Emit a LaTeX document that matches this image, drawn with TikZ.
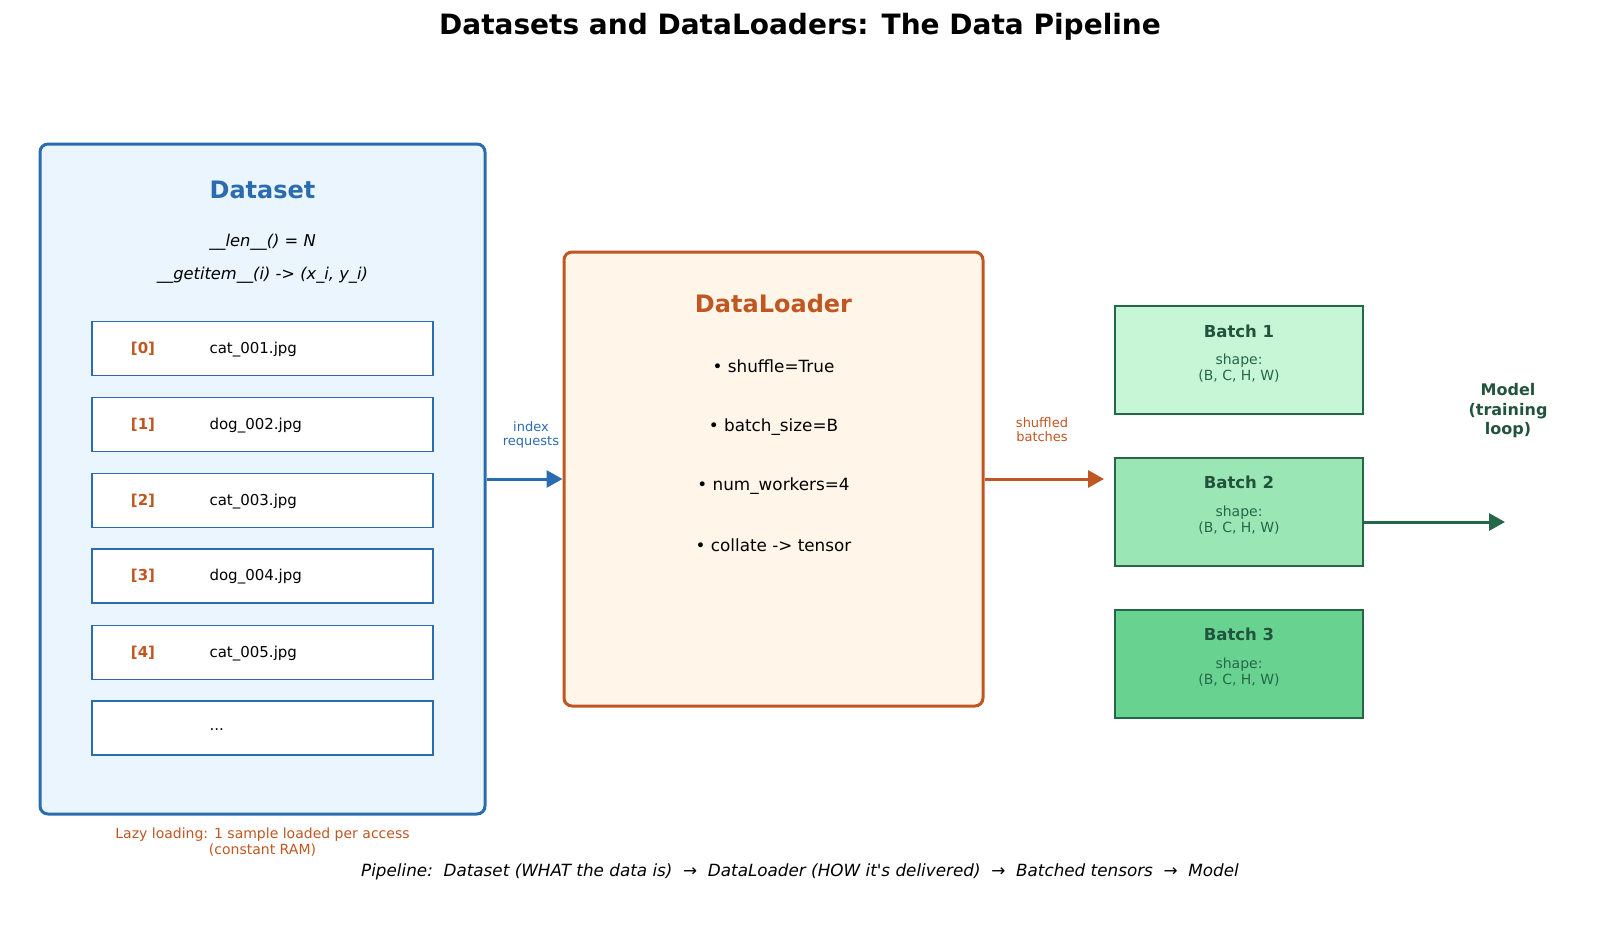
\documentclass[tikz,border=0pt]{standalone}
\usepackage{fontspec}
\setmainfont{DejaVu Sans}[Ligatures=TeXOff]
\usetikzlibrary{arrows.meta}
\definecolor{dsblue}{HTML}{2B6CB0}
\definecolor{dsfill}{HTML}{EBF5FE}
\definecolor{dlorange}{HTML}{C05621}
\definecolor{dlfill}{HTML}{FFF5E9}
\definecolor{bgreen}{HTML}{22543D}
\definecolor{bline}{HTML}{276749}
\definecolor{bfillA}{HTML}{C6F6D5}
\definecolor{bfillB}{HTML}{9AE6B4}
\definecolor{bfillC}{HTML}{68D391}

\begin{document}
\begin{tikzpicture}[
  x=1pt, y=-1pt,
  ttl/.style={font=\fontsize{28pt}{32pt}\selectfont\bfseries},
  dsbox/.style={draw=dsblue,fill=dsfill,line width=3pt,rounded corners=8pt,minimum width=445pt,minimum height=670pt},
  dlbox/.style={draw=dlorange,fill=dlfill,line width=3pt,rounded corners=8pt,minimum width=419pt,minimum height=454pt},
  head/.style={font=\fontsize{24pt}{28pt}\selectfont\bfseries},
  meth/.style={font=\fontsize{16.3pt}{19pt}\selectfont\itshape},
  item/.style={draw=dsblue,fill=white,line width=1.8pt,minimum width=341pt,minimum height=54pt},
  idx/.style={text=dlorange,font=\fontsize{15pt}{18pt}\selectfont\bfseries},
  fname/.style={anchor=west,font=\fontsize{15pt}{18pt}\selectfont},
  bullet/.style={font=\fontsize{16.8pt}{19pt}\selectfont},
  small/.style={align=center,font=\fontsize{13pt}{14.5pt}\selectfont},
  batch/.style={draw=bline,line width=2.5pt,minimum width=248pt,minimum height=108pt},
  btitle/.style={text=bgreen,font=\fontsize{16.5pt}{19pt}\selectfont\bfseries},
  bshape/.style={text=bline,align=center,font=\fontsize{14pt}{16pt}\selectfont},
  flow/.style={line width=3pt,-{Triangle[length=16pt,width=17pt]}}
]
  \useasboundingbox (0,0) rectangle (1600,927);
  \node[ttl] (title) at (800,27) {Datasets and DataLoaders: The Data Pipeline};

  \node[dsbox] (dataset) at (262.5,479) {};
  \node[head,text=dsblue] (dshead) at (262.5,190) {Dataset};
  \node[meth] (len) at (262.5,242) {\_\_len\_\_() = N};
  \node[meth] (getitem) at (262.5,275.5) {\_\_getitem\_\_(i) -> (x\_i, y\_i)};

  \node[item] (it0) at (262.5,348.5) {};
  \node[idx] (ix0) at (143,348.5) {[0]};
  \node[fname] (fn0) at (206,349.5) {cat\_001.jpg};
  \node[item] (it1) at (262.5,424.5) {};
  \node[idx] (ix1) at (143,424.5) {[1]};
  \node[fname] (fn1) at (206,425.5) {dog\_002.jpg};
  \node[item] (it2) at (262.5,500.5) {};
  \node[idx] (ix2) at (143,500.5) {[2]};
  \node[fname] (fn2) at (206,501.5) {cat\_003.jpg};
  \node[item] (it3) at (262.5,576) {};
  \node[idx] (ix3) at (143,576) {[3]};
  \node[fname] (fn3) at (206,577) {dog\_004.jpg};
  \node[item] (it4) at (262.5,652.5) {};
  \node[idx] (ix4) at (143,652.5) {[4]};
  \node[fname] (fn4) at (206,653.5) {cat\_005.jpg};
  \node[item] (it5) at (262.5,728) {};
  \node[fname] (fn5) at (206,730) {...};

  \node[small,text=dlorange,font=\fontsize{14pt}{16pt}\selectfont] (lazy) at (262.5,842) {Lazy loading: 1 sample loaded per access\\(constant RAM)};

  \node[dlbox] (loader) at (773.5,479) {};
  \node[head,text=dlorange] (dlhead) at (773.5,304) {DataLoader};
  \node[bullet] (b1) at (773.5,366) {• shuffle=True};
  \node[bullet] (b2) at (773.5,427) {• batch\_size=B};
  \node[bullet] (b3) at (773.5,486.5) {• num\_workers=4};
  \node[bullet] (b4) at (773.5,545) {• collate -> tensor};

  \node[batch,fill=bfillA] (batch1) at (1239,360) {};
  \node[btitle] (bt1) at (1239,331) {Batch 1};
  \node[bshape] (bs1) at (1239,368) {shape:\\(B, C, H, W)};
  \node[batch,fill=bfillB] (batch2) at (1239,512) {};
  \node[btitle] (bt2) at (1239,482) {Batch 2};
  \node[bshape] (bs2) at (1239,520) {shape:\\(B, C, H, W)};
  \node[batch,fill=bfillC] (batch3) at (1239,664) {};
  \node[btitle] (bt3) at (1239,634) {Batch 3};
  \node[bshape] (bs3) at (1239,672) {shape:\\(B, C, H, W)};

  \node[btitle,align=center,font=\fontsize{16pt}{19.5pt}\selectfont\bfseries] (model) at (1508,411) {Model\\(training\\loop)};

  \node[small,text=dsblue] (idxlbl) at (531,435) {index\\requests};
  \node[small,text=dlorange] (shlbl) at (1042,429.5) {shuffled\\batches};

  \coordinate (bin) at (1104,479);
  \coordinate (mdlin) at (1505,522);
  \draw[flow,dsblue] (dataset.east) -- (loader.west);
  \draw[flow,dlorange] (loader.east) -- (bin);
  \draw[flow,bline] (batch2.east |- mdlin) -- (mdlin);

  \node[font=\fontsize{16.8pt}{20pt}\selectfont\itshape] (pipe) at (800,872) {Pipeline:\ \ Dataset (WHAT the data is)\ \ →\ \ DataLoader (HOW it's delivered)\ \ →\ \ Batched tensors\ \ →\ \ Model};
\end{tikzpicture}
\end{document}
